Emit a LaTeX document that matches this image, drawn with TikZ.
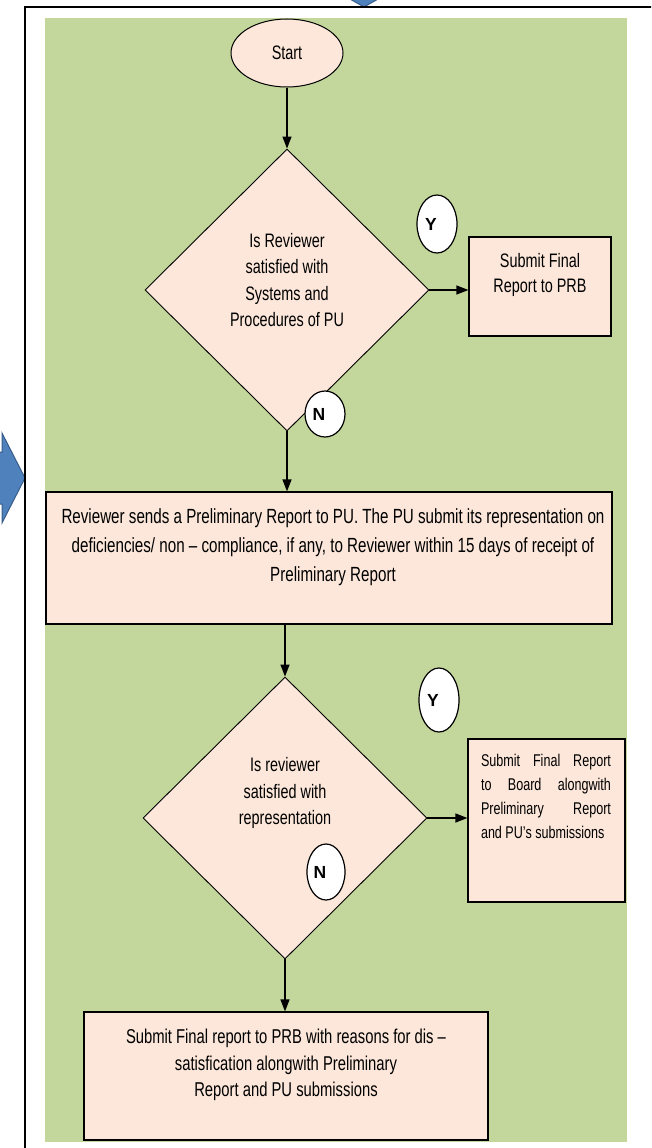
\documentclass[tikz,border=0pt]{standalone}
\usepackage{fontspec}
\setmainfont[FakeStretch=0.74]{Liberation Sans}
\newfontfamily\ynfont{Liberation Sans}
\usetikzlibrary{shapes.geometric,arrows.meta}
\definecolor{panelgreen}{RGB}{195,214,155}
\definecolor{peach}{RGB}{252,231,218}
\definecolor{blockblue}{RGB}{79,129,189}
\definecolor{blockedge}{RGB}{56,93,138}
% one justified line of fixed width
\newcommand{\spreadline}[1]{\makebox[130pt][s]{#1}}
\begin{document}
\begin{tikzpicture}[x=1pt,y=-1pt,
  txt/.style={font=\fontsize{19.5}{26.5}\selectfont, align=center, inner sep=0pt},
  box/.style={draw, fill=peach, line width=1.2pt, inner sep=0pt},
  decision/.style={diamond, draw, fill=peach, line width=0.9pt, inner sep=0pt,
                   minimum width=284pt, minimum height=282pt},
  yn/.style={ellipse, draw, fill=white, line width=1.2pt, inner sep=0pt,
             font=\ynfont\bfseries\fontsize{17.5}{17.5}\selectfont},
  flow/.style={line width=1.3pt, -{Triangle[length=12pt,width=9pt]}},
  bluearrow/.style={fill=blockblue, draw=blockedge, line width=1pt}]
\useasboundingbox (0,0) rectangle (651,1148);
\clip (0,0) rectangle (651,1148);

% block arrows entering the frame
\draw[bluearrow] (-10,452) -- (2,452) -- (2,433) -- (25,478) -- (2,523) -- (2,504) -- (-10,504) -- cycle;
\draw[bluearrow] (340,-30) -- (340,-18) -- (320,-18) -- (364,7) -- (408,-18) -- (388,-18) -- (388,-30) -- cycle;

% frame
\draw[line width=2pt] (25,1160) -- (25,7) -- (660,7);

% panel
\fill[panelgreen] (45,18) rectangle (627,1142);

% flow nodes
\node[ellipse, draw, fill=peach, line width=1pt, inner sep=0pt,
      minimum width=112pt, minimum height=68pt, txt] (start) at (287,53) {Start};

\node[decision] (d1) at (287,290) {};
\node[txt] (d1txt) at (287,280) {Is Reviewer\\satisfied with\\Systems and\\Procedures of PU};

\node[box, minimum width=142pt, minimum height=99pt] (prb) at (540,286.5) {};
\node[txt, font=\fontsize{19.5}{25.5}\selectfont] (prbtxt) at (540,275) {Submit Final\\Report to PRB};

\node[box, minimum width=566pt, minimum height=132pt] (rep) at (329,558) {};
\node[txt, font=\fontsize{20.5}{29}\selectfont] (reptxt) at (333,547)
  {Reviewer sends a Preliminary Report to PU. The PU submit its representation on\\
   deficiencies/ non – compliance, if any, to Reviewer within 15 days of receipt of\\
   Preliminary Report};

\node[decision] (d2) at (285,818) {};
\node[txt] (d2txt) at (285,793) {Is reviewer\\satisfied with\\representation};

\node[box, minimum width=157pt, minimum height=163pt] (board) at (546.5,820.5) {};
\node[txt, align=left, font=\fontsize{17}{24}\selectfont] (boardtxt) at (546,796)
  {\spreadline{Submit Final Report}\\
   \spreadline{to Board alongwith}\\
   \spreadline{Preliminary Report}\\
   and PU’s submissions};

\node[box, minimum width=404pt, minimum height=128pt] (final) at (286,1076) {};
\node[txt, font=\fontsize{20}{26.5}\selectfont] (finaltxt) at (286,1065)
  {Submit Final report to PRB with reasons for dis –\\
   satisfication alongwith Preliminary\\
   Report and PU submissions};

% Y / N markers
\node[yn, minimum width=40pt, minimum height=58pt] (y1) at (437,224) {Y\kern12pt};
\node[yn, minimum width=40pt, minimum height=46pt] (n1) at (325,414) {N\kern12pt};
\node[yn, minimum width=40pt, minimum height=64pt] (y2) at (439,700) {Y\kern12pt};
\node[yn, minimum width=38pt, minimum height=56pt] (n2) at (326,872) {N\kern12pt};

% connectors
\draw[flow] (start) -- (d1);
\draw[flow] (d1.east) -- (d1.east -| prb.west);
\draw[flow] (d1.south) -- (d1.south |- rep.north);
\draw[flow] (rep.south -| d2.north) -- (d2.north);
\draw[flow] (d2.east) -- (d2.east -| board.west);
\draw[flow] (d2.south) -- (d2.south |- final.north);
\end{tikzpicture}
\end{document}
